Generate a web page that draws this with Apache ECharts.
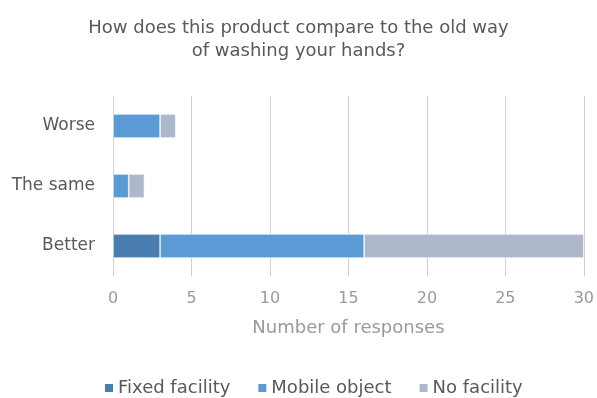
<!DOCTYPE html>
<html>
<head>
<meta charset="utf-8">
<script src="https://cdn.jsdelivr.net/npm/echarts@6/dist/echarts.min.js"></script>
<style>
  html, body { margin: 0; padding: 0; background: #fff; }
  #chart { width: 597px; height: 398px; }
</style>
</head>
<body>
<div id="chart"></div>
<script>
// Survey responses, categories listed bottom to top
const categories = ['Better', 'The same', 'Worse'];
const fixedFacility = [3, 0, 0];
const mobileObject = [13, 1, 3];
const noFacility = [14, 1, 1];
const seriesNames = ['Fixed facility', 'Mobile object', 'No facility'];
const seriesColors = ['#4a7db0', '#5b9bd5', '#adb9cb'];

const FONT = 'DejaVu Sans';

const chart = echarts.init(document.getElementById('chart'), null, { renderer: 'canvas' });

function barSeries(name, data, color) {
  return {
    name: name,
    type: 'bar',
    stack: 'total',
    data: data,
    barWidth: 24,
    itemStyle: { color: color, borderColor: '#ffffff', borderWidth: 0.6 }
  };
}

chart.setOption({
  animation: false,
  textStyle: { fontFamily: FONT },
  title: {
    text: 'How does this product compare to the old way\nof washing your hands?',
    left: 'center',
    top: 12,
    textStyle: { fontFamily: FONT, fontSize: 18, fontWeight: 'normal', color: '#595959', lineHeight: 23 }
  },
  legend: {
    top: 379,
    left: 103,
    padding: 0,
    itemWidth: 10,
    itemHeight: 10,
    itemGap: 26,
    icon: 'rect',
    textStyle: { fontFamily: FONT, fontSize: 18, color: '#595959', padding: [0, 0, 0, -1] },
    data: seriesNames
  },
  grid: { left: 113, right: 13, top: 96, bottom: 122, containLabel: false },
  xAxis: {
    type: 'value',
    min: 0,
    max: 30,
    interval: 5,
    name: 'Number of responses',
    nameLocation: 'middle',
    nameGap: 43,
    nameTextStyle: { fontFamily: FONT, fontSize: 18, color: '#9a9a9a' },
    axisLine: { show: false },
    axisTick: { show: false },
    axisLabel: { fontFamily: FONT, fontSize: 16, color: '#9a9a9a', margin: 15 },
    splitLine: { show: true, lineStyle: { color: '#d0d0d0', width: 1 } }
  },
  yAxis: {
    type: 'category',
    data: categories,
    axisLine: { show: false },
    axisTick: { show: false },
    axisLabel: { fontFamily: FONT, fontSize: 17, color: '#595959', margin: 18 }
  },
  series: [
    barSeries(seriesNames[0], fixedFacility, seriesColors[0]),
    barSeries(seriesNames[1], mobileObject, seriesColors[1]),
    barSeries(seriesNames[2], noFacility, seriesColors[2])
  ]
});
</script>
</body>
</html>
